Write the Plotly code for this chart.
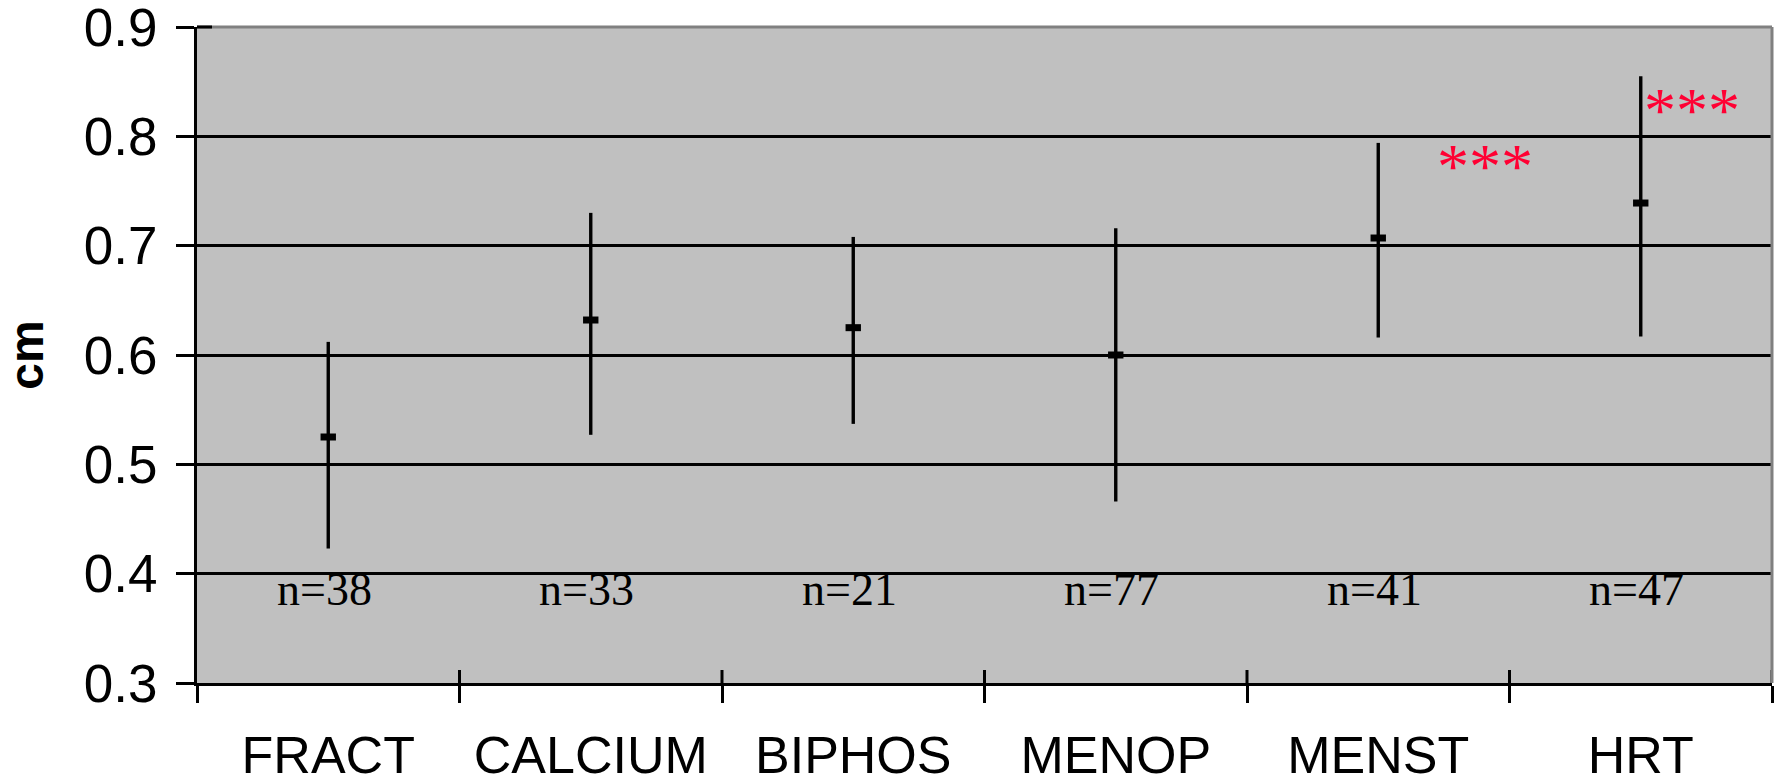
import plotly.graph_objects as go

# Group labels, group means (cm) with lower/upper interval limits, and sample sizes
categories = ["FRACT", "CALCIUM", "BIPHOS", "MENOP", "MENST", "HRT"]
means = [0.525, 0.632, 0.625, 0.600, 0.707, 0.739]
upper = [0.612, 0.730, 0.708, 0.716, 0.794, 0.855]
lower = [0.423, 0.527, 0.537, 0.466, 0.616, 0.617]
sample_sizes = [38, 33, 21, 77, 41, 47]
y_ticks = [0.3, 0.4, 0.5, 0.6, 0.7, 0.8, 0.9]
significant = ["MENST", "HRT"]

err_plus = [u - m for u, m in zip(upper, means)]
err_minus = [m - l for m, l in zip(means, lower)]

SANS = "Arial, Liberation Sans, sans-serif"
SERIF = "Times New Roman, Liberation Serif, serif"
GRID_BG = "#C0C0C0"
BORDER = "#808080"
STAR_RED = "#FF0033"

fig = go.Figure()
fig.add_trace(go.Scatter(
    x=categories,
    y=means,
    mode="markers",
    marker=dict(symbol="line-ew", size=11, color="black",
                line=dict(color="black", width=7)),
    error_y=dict(type="data", symmetric=False, array=err_plus,
                 arrayminus=err_minus, width=0, thickness=3.4, color="black"),
    showlegend=False,
    hoverinfo="skip",
))

# sample-size labels just under the 0.4 gridline
for cat, n in zip(categories, sample_sizes):
    fig.add_annotation(x=cat, y=0.4, xref="x", yref="y", text=f"n={n}",
                       showarrow=False, yanchor="top", xshift=-4, yshift=12,
                       font=dict(family=SERIF, size=46, color="black"))

# significance stars
star_offsets = {"MENST": (107, -30), "HRT": (51, 26)}
for cat in significant:
    dx, dy = star_offsets[cat]
    fig.add_annotation(x=cat, y=0.8, xref="x", yref="y", text="***",
                       showarrow=False, xanchor="center", yanchor="middle",
                       xshift=dx, yshift=dy,
                       font=dict(family=SERIF, size=64, color=STAR_RED))

shapes = []
# inner halves of the x-axis ticks at the category boundaries
for i in range(1, len(categories) + 1):
    shapes.append(dict(type="line", xref="x", yref="y", ysizemode="pixel",
                       yanchor=y_ticks[0], x0=i - 0.5, x1=i - 0.5, y0=0, y1=13,
                       line=dict(color="black", width=3), layer="above"))
# grey frame on the top and right edges
shapes.append(dict(type="line", xref="paper", yref="paper", x0=0, x1=1, y0=1, y1=1,
                   line=dict(color=BORDER, width=3), layer="above"))
shapes.append(dict(type="line", xref="paper", yref="paper", x0=1, x1=1, y0=0, y1=1,
                   line=dict(color=BORDER, width=3), layer="above"))
# inner half of the top y tick
shapes.append(dict(type="line", xref="paper", yref="paper", xsizemode="pixel", xanchor=0,
                   x0=0, x1=15, y0=1, y1=1,
                   line=dict(color="black", width=3), layer="above"))
fig.update_layout(shapes=shapes)

fig.update_layout(
    width=1779,
    height=780,
    margin=dict(l=197, r=7, t=27, b=97, autoexpand=False),
    paper_bgcolor="white",
    plot_bgcolor=GRID_BG,
    xaxis=dict(
        type="category",
        range=[-0.5, len(categories) - 0.5],
        tickson="boundaries",
        ticks="outside", ticklen=17, tickwidth=3, tickcolor="black",
        showline=True, linecolor="black", linewidth=3,
        showgrid=False, zeroline=False,
        tickfont=dict(family=SANS, size=52, color="black"),
        ticklabelstandoff=25,
        ticklabeloverflow="allow",
    ),
    yaxis=dict(
        range=[y_ticks[0], y_ticks[-1] + 1e-6],
        tickvals=y_ticks,
        ticktext=[f"{v:.1f}" for v in y_ticks],
        ticks="outside", ticklen=18, tickwidth=3, tickcolor="black",
        showline=True, linecolor="black", linewidth=3,
        showgrid=True, gridcolor="black", gridwidth=3,
        zeroline=False,
        tickfont=dict(family=SANS, size=53, color="black"),
        ticklabelstandoff=8,
        ticklabeloverflow="allow",
        title=dict(text="<b>cm</b>", standoff=36,
                   font=dict(family=SANS, size=48, color="black")),
    ),
)

fig.write_html("out.html")
